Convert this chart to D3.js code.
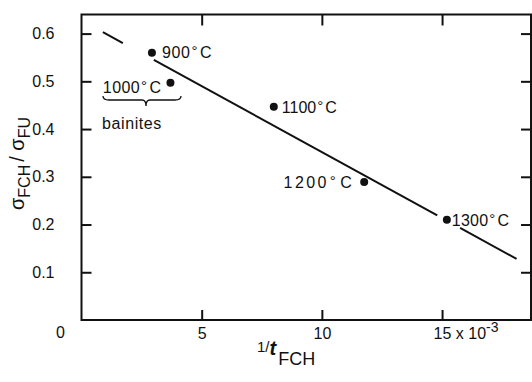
<!DOCTYPE html>
<html><head><meta charset="utf-8">
<script src="https://cdn.jsdelivr.net/npm/d3@7"></script>
<style>
body{margin:0;background:#fff;}
text{font-family:"Liberation Sans",Arial,sans-serif;fill:#111;}
</style></head>
<body><svg id="c" width="532" height="382"></svg>
<script>
// Data
const tempLabels = ["900°C", "1000°C", "1100°C", "1200°C", "1300°C"];
const invTime = [2.93, 3.7, 8.0, 11.76, 15.2];
const ratio = [0.56, 0.497, 0.447, 0.289, 0.21];
const fitSegX = [[0.89, 1.72], [3.01, 14.8], [15.75, 18.1]];
const fitSegY = [[0.603, 0.580], [0.545, 0.219], [0.193, 0.128]];
const xTicks = [5, 10, 15];
const xTickLabels = ["5", "10", "15"];
const yTicks = [0.1, 0.2, 0.3, 0.4, 0.5, 0.6];
const yTickLabels = ["0.1", "0.2", "0.3", "0.4", "0.5", "0.6"];

const svg = d3.select("#c");
const x = d3.scaleLinear().domain([0, 18.7]).range([81.5, 531]);
const y = d3.scaleLinear().domain([0, 0.64]).range([320, 14.5]);
const ink = "#111";
const FS = 16;

// frame
svg.append("rect").attr("x", x(0)).attr("y", y(0.64))
  .attr("width", x(18.7) - x(0)).attr("height", y(0) - y(0.64))
  .attr("fill", "none").attr("stroke", ink).attr("stroke-width", 2);

// axes with inward ticks
const fmtX = (d, i) => xTickLabels[i];
const fmtY = (d, i) => yTickLabels[i];
const gB = svg.append("g").attr("transform", `translate(0,${y(0)})`)
  .call(d3.axisBottom(x).tickValues(xTicks).tickSizeInner(-10).tickSizeOuter(0).tickPadding(17).tickFormat(fmtX));
const gT = svg.append("g").attr("transform", `translate(0,${y(0.64)})`)
  .call(d3.axisTop(x).tickValues(xTicks).tickSizeInner(-11).tickSizeOuter(0).tickFormat(""));
const gL = svg.append("g").attr("transform", `translate(${x(0)},0)`)
  .call(d3.axisLeft(y).tickValues(yTicks).tickSizeInner(-10).tickSizeOuter(0).tickPadding(27).tickFormat(fmtY));
const gR = svg.append("g").attr("transform", `translate(${x(18.7)},0)`)
  .call(d3.axisRight(y).tickValues(yTicks).tickSizeInner(-10).tickSizeOuter(0).tickFormat(""));
[gB, gT, gL, gR].forEach(g => {
  g.select(".domain").remove();
  g.selectAll(".tick line").attr("stroke", ink).attr("stroke-width", 2);
  g.selectAll(".tick text").attr("font-size", FS).attr("fill", ink)
    .attr("font-family", "Liberation Sans, Arial, sans-serif");
});
gB.selectAll(".tick text").attr("dy", "0.15em");
// "x 10^-3" suffix on last tick
gB.selectAll(".tick").filter(d => d === 15).select("text")
  .attr("text-anchor", "start").attr("dx", "-9")
  .text("15 x 10")
  .append("tspan").attr("dy", "-7").attr("font-size", 14).text("-3");
// shared zero label
svg.append("text").attr("x", x(0) - 21).attr("y", y(0) + 18)
  .attr("text-anchor", "middle").attr("font-size", FS).text("0");

// fitted line (with gaps)
const line = d3.line().x(d => x(d[0])).y(d => y(d[1]));
fitSegX.forEach((sx, i) => {
  svg.append("path").datum(sx.map((v, j) => [v, fitSegY[i][j]]))
    .attr("d", line).attr("fill", "none").attr("stroke", ink).attr("stroke-width", 2);
});

// points
const pts = invTime.map((v, i) => ({x: v, y: ratio[i], label: tempLabels[i]}));
svg.selectAll("circle.pt").data(pts).enter().append("circle")
  .attr("cx", d => x(d.x)).attr("cy", d => y(d.y)).attr("r", 4).attr("fill", ink);

// point labels
const lab = [
  {dx: 10, dy: 5, anchor: "start", ls: 0.6},
  {dx: -9, dy: 10, anchor: "end", ls: 0.4},
  {dx: 8, dy: 6, anchor: "start", ls: 0},
  {dx: -10, dy: 6, anchor: "end", ls: 2.4},
  {dx: 5, dy: 6, anchor: "start", ls: 0.2}
];
pts.forEach((p, i) => {
  const L = lab[i];
  const parts = p.label.split("°");
  const t = svg.append("text").attr("x", x(p.x) + L.dx).attr("y", y(p.y) + L.dy)
    .attr("text-anchor", L.anchor).attr("font-size", FS).attr("letter-spacing", L.ls);
  t.append("tspan").text(parts[0]);
  t.append("tspan").attr("dy", -2).attr("dx", 1).attr("font-size", 15).text("°");
  t.append("tspan").attr("dy", 2).attr("dx", 2).text(parts[1]);
});

// brace under 1000°C and "bainites"
const bx0 = 103, bx1 = 181, bxm = 146, by = 100;
svg.append("path")
  .attr("d", `M${bx0},${by-4} Q${bx0},${by} ${bx0+6},${by} L${bxm-4},${by} Q${bxm},${by} ${bxm},${by+6} Q${bxm},${by} ${bxm+4},${by} L${bx1-6},${by} Q${bx1},${by} ${bx1},${by-4}`)
  .attr("fill", "none").attr("stroke", ink).attr("stroke-width", 1.3);
svg.append("text").attr("x", 102).attr("y", 129).attr("font-size", FS)
  .attr("letter-spacing", 0.6).text("bainites");

// axis titles
const yt = svg.append("text").attr("transform", "translate(24,210) rotate(-90)")
  .attr("font-size", 20).attr("text-anchor", "start");
yt.append("tspan").text("σ");
yt.append("tspan").attr("dy", 6).attr("font-size", 16).text("FCH");
yt.append("tspan").attr("dy", -6).attr("dx", 3).text("/ σ");
yt.append("tspan").attr("dy", 6).attr("font-size", 16).text("FU");

const xt = svg.append("text").attr("x", 257).attr("y", 355).attr("font-size", 15);
xt.append("tspan").attr("dy", -3).text("1/");
xt.append("tspan").attr("dy", 3).attr("font-size", 20).attr("font-weight", "bold")
  .attr("font-style", "italic").text("t");
xt.append("tspan").attr("dy", 10).attr("dx", 2).attr("font-size", 18).text("FCH");
</script></body></html>
